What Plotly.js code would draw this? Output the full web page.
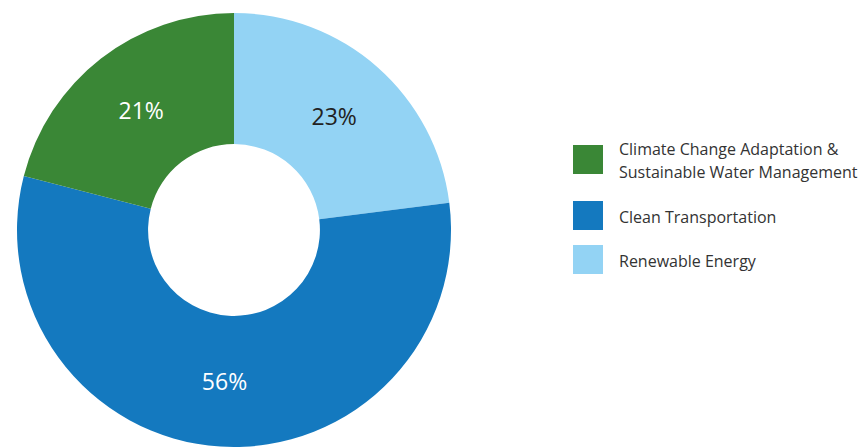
<!DOCTYPE html>
<html>
<head>
<meta charset="utf-8">
<script src="https://cdn.plot.ly/plotly-3.0.1.min.js"></script>
<style>html,body{margin:0;padding:0;background:#fff;}#chart{width:861px;height:447px;}</style>
</head>
<body>
<div id="chart"></div>
<script>
var labels = ["Climate Change Adaptation &<br>Sustainable Water Management", "Clean Transportation", "Renewable Energy"];
var values = [21, 56, 23];
var colors = ["#3a8736", "#1479bf", "#93d3f4"];
var textColors = ["#ffffff", "#ffffff", "#222222"];

var W = 861, H = 447;
function px(x) { return x / W; }
function py(y) { return 1 - y / H; }

// pie drawn clockwise from 12 o'clock, so feed it in reverse order
var pieLabels = labels.slice().reverse();
var pieValues = values.slice().reverse();
var pieColors = colors.slice().reverse();
var pieText = textColors.slice().reverse();

var trace = {
  type: "pie",
  labels: pieLabels,
  values: pieValues,
  sort: false,
  direction: "clockwise",
  rotation: 0,
  hole: 0.396,
  marker: { colors: pieColors, line: { width: 0 } },
  texttemplate: "%{value}%",
  textposition: "inside",
  insidetextorientation: "horizontal",
  textfont: { family: "Open Sans, sans-serif", size: 23, color: pieText },
  domain: { x: [17 / W, 451 / W], y: [0, 434 / H] },
  showlegend: false,
  hoverinfo: "label+percent"
};

var shapes = [];
var annotations = [];
var squareTops = [145, 201, 245];
var sq = 29;
var lineGap = 22;
for (var i = 0; i < labels.length; i++) {
  var sqTop = squareTops[i];
  shapes.push({
    type: "rect", xref: "paper", yref: "paper",
    x0: px(573), x1: px(573 + 30), y0: py(sqTop + sq), y1: py(sqTop),
    fillcolor: colors[i], line: { width: 0 }
  });
  var lines = labels[i].split("<br>");
  var center = sqTop + sq / 2 + 1;
  var start = center - (lines.length - 1) * lineGap / 2;
  for (var j = 0; j < lines.length; j++) {
    annotations.push({
      xref: "paper", yref: "paper",
      x: px(617), y: py(start + j * lineGap),
      xanchor: "left", yanchor: "middle",
      text: lines[j], showarrow: false,
      font: { family: "Open Sans, sans-serif", size: 16, color: "#333333" }
    });
  }
}

var layout = {
  width: W, height: H,
  margin: { l: 0, r: 0, t: 0, b: 0 },
  paper_bgcolor: "#ffffff",
  showlegend: false,
  shapes: shapes,
  annotations: annotations
};

Plotly.newPlot("chart", [trace], layout, { displayModeBar: false, staticPlot: true });
</script>
</body>
</html>
